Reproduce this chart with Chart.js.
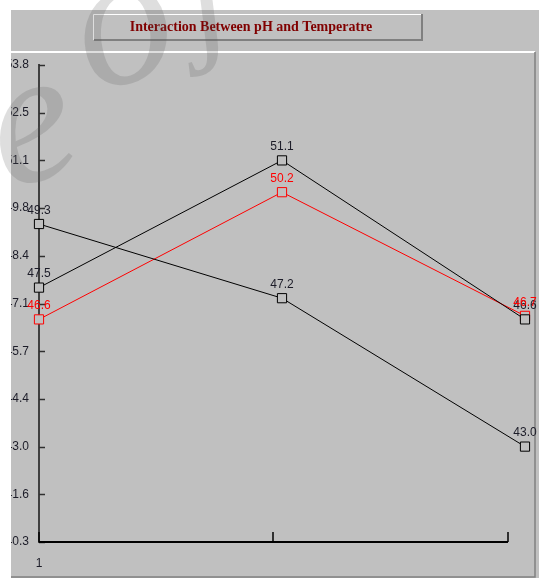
<!DOCTYPE html>
<html>
<head>
<meta charset="utf-8">
<script src="https://cdn.jsdelivr.net/npm/chart.js@4.4.1/dist/chart.umd.min.js"></script>
<style>
  html, body { margin: 0; padding: 0; background: #fff; overflow: hidden; }
  #wrap { width: 539px; height: 579px; position: relative; }
</style>
</head>
<body>
<div id="wrap"><canvas id="c" width="539" height="579"></canvas></div>
<script>
// Levels along the x axis and the three response lines
const categories = ['1', '2', '3'];
const xTickLabels = ['1', '', ''];
const seriesA = [49.3, 47.2, 43.0];
const seriesB = [47.5, 51.1, 46.6];
const seriesC = [46.6, 50.2, 46.7];

// Value axis: 40.3 .. 53.8 in steps of 1.35
const yTickValues = [40.3, 41.65, 43.0, 44.35, 45.7, 47.05, 48.4, 49.75, 51.1, 52.45, 53.8];
const yTickLabels = ['40.3', '41.6', '43.0', '44.4', '45.7', '47.1', '48.4', '49.8', '51.1', '52.5', '53.8'];

const chartTitle = 'Interaction Between pH and Temperatre';

const PANEL = '#c0c0c0';

// Window frame, title box and panel borders behind the plot
const framePlugin = {
  id: 'frame',
  beforeDraw(chart) {
    const ctx = chart.ctx;
    ctx.save();
    ctx.fillStyle = '#ffffff';
    ctx.fillRect(0, 0, chart.width, chart.height);
    ctx.fillStyle = PANEL;
    ctx.fillRect(11, 10, chart.width - 11, 568);

    // title box with raised edges
    ctx.fillStyle = PANEL;
    ctx.fillRect(93, 14, 329, 26);
    ctx.strokeStyle = '#ffffff';
    ctx.lineWidth = 1;
    ctx.beginPath();
    ctx.moveTo(93.5, 40); ctx.lineTo(93.5, 14.5); ctx.lineTo(422, 14.5);
    ctx.stroke();
    ctx.strokeStyle = '#808080';
    ctx.lineWidth = 2;
    ctx.beginPath();
    ctx.moveTo(94, 40); ctx.lineTo(422, 40); ctx.lineTo(422, 14);
    ctx.stroke();

    ctx.fillStyle = '#800000';
    ctx.font = 'bold 14px "Liberation Serif", "Times New Roman", serif';
    ctx.textAlign = 'center';
    ctx.textBaseline = 'middle';
    ctx.fillText(chartTitle, 251, 27);

    // plot panel edges
    ctx.strokeStyle = '#ffffff';
    ctx.lineWidth = 2;
    ctx.beginPath();
    ctx.moveTo(11, 52); ctx.lineTo(535, 52);
    ctx.stroke();
    ctx.strokeStyle = '#808080';
    ctx.lineWidth = 1.5;
    ctx.beginPath();
    ctx.moveTo(535, 52); ctx.lineTo(535, 577); ctx.lineTo(11, 577);
    ctx.stroke();
    ctx.restore();
  }
};

// Inward tick marks on the value axis and the shorter category axis line
const axisPlugin = {
  id: 'axisMarks',
  beforeDatasetsDraw(chart) {
    const ctx = chart.ctx;
    const y = chart.scales.y;
    const area = chart.chartArea;
    ctx.save();
    ctx.strokeStyle = '#303030';
    ctx.lineWidth = 1.5;
    yTickValues.forEach(v => {
      const py = Math.round(y.getPixelForValue(v)) + 0.5;
      ctx.beginPath();
      ctx.moveTo(area.left, py);
      ctx.lineTo(area.left + 6, py);
      ctx.stroke();
    });
    // category axis runs to 96.5% of the plot width, ticks at start, middle and end
    const len = (area.right - area.left) * 0.965;
    ctx.strokeStyle = '#000000';
    ctx.lineWidth = 2;
    ctx.beginPath();
    ctx.moveTo(area.left, area.bottom);
    ctx.lineTo(area.left + len, area.bottom);
    ctx.stroke();
    ctx.lineWidth = 1.5;
    [0, 0.5, 1].forEach(f => {
      const px = Math.round(area.left + len * f);
      ctx.beginPath();
      ctx.moveTo(px, area.bottom);
      ctx.lineTo(px, area.bottom - 10);
      ctx.stroke();
    });
    ctx.restore();
  }
};

// Value labels above each marker
const valueLabels = {
  id: 'valueLabels',
  afterDatasetsDraw(chart) {
    const ctx = chart.ctx;
    ctx.save();
    ctx.font = '12px "Liberation Sans", Arial, sans-serif';
    ctx.textAlign = 'center';
    ctx.textBaseline = 'middle';
    chart.data.datasets.forEach((ds, i) => {
      const meta = chart.getDatasetMeta(i);
      ctx.fillStyle = ds.labelColor;
      meta.data.forEach((pt, j) => {
        ctx.fillText(ds.data[j].toFixed(1), pt.x, pt.y - 13.5);
      });
    });
    ctx.restore();
  }
};

// White margin left of the panel, then the faint watermark letters on top
const overlayPlugin = {
  id: 'overlay',
  afterDraw(chart) {
    const ctx = chart.ctx;
    ctx.save();
    ctx.fillStyle = '#ffffff';
    ctx.fillRect(0, 0, 11, chart.height);

    ctx.fillStyle = 'rgba(90, 90, 90, 0.2)';
    ctx.textAlign = 'center';
    ctx.textBaseline = 'middle';
    const marks = [
      { ch: 'e', x: 32, y: 130, r: -0.3, s: 190 },
      { ch: 'o', x: 124, y: 30, r: -0.3, s: 195 },
      { ch: 'j', x: 205, y: 0, r: -0.3, s: 150 }
    ];
    marks.forEach(m => {
      ctx.save();
      ctx.translate(m.x, m.y);
      ctx.rotate(m.r);
      ctx.font = 'italic ' + m.s + 'px "Liberation Serif", serif';
      ctx.fillText(m.ch, 0, 0);
      ctx.restore();
    });
    ctx.restore();
  }
};

const pointStyleFor = color => ({
  borderColor: color,
  borderWidth: 1,
  pointStyle: 'rect',
  pointRadius: 6.5,
  pointHoverRadius: 6.5,
  pointBackgroundColor: PANEL,
  pointBorderColor: color,
  pointBorderWidth: 1,
  tension: 0,
  fill: false
});

new Chart(document.getElementById('c'), {
  type: 'line',
  data: {
    labels: categories,
    datasets: [
      Object.assign({ label: 'A', data: seriesA, labelColor: '#1c1c28' }, pointStyleFor('#000000')),
      Object.assign({ label: 'B', data: seriesB, labelColor: '#1c1c28' }, pointStyleFor('#000000')),
      Object.assign({ label: 'C', data: seriesC, labelColor: '#ff0000' }, pointStyleFor('#ff0000'))
    ]
  },
  options: {
    responsive: false,
    animation: false,
    devicePixelRatio: 1,
    layout: { padding: { top: 65, right: 10, left: 0, bottom: 0 } },
    plugins: {
      legend: { display: false },
      tooltip: { enabled: false },
      title: { display: false }
    },
    scales: {
      x: {
        type: 'category',
        offset: false,
        grid: { display: false, drawTicks: false },
        border: { display: false },
        ticks: {
          autoSkip: false,
          maxRotation: 0,
          padding: 14,
          color: '#1c1c28',
          font: { family: '"Liberation Sans", Arial, sans-serif', size: 12 },
          callback: (v, i) => xTickLabels[i]
        },
        afterFit: s => { s.height = 37; }
      },
      y: {
        type: 'linear',
        min: 40.3,
        max: 53.8,
        afterBuildTicks: s => { s.ticks = yTickValues.map(v => ({ value: v })); },
        grid: { display: false, drawTicks: false },
        border: { display: true, color: '#404040', width: 2 },
        ticks: {
          autoSkip: false,
          padding: 10,
          color: '#1c1c28',
          font: { family: '"Liberation Sans", Arial, sans-serif', size: 12 },
          callback: (v, i) => yTickLabels[i]
        },
        afterFit: s => { s.width = 39; }
      }
    }
  },
  plugins: [framePlugin, axisPlugin, valueLabels, overlayPlugin]
});
</script>
</body>
</html>
